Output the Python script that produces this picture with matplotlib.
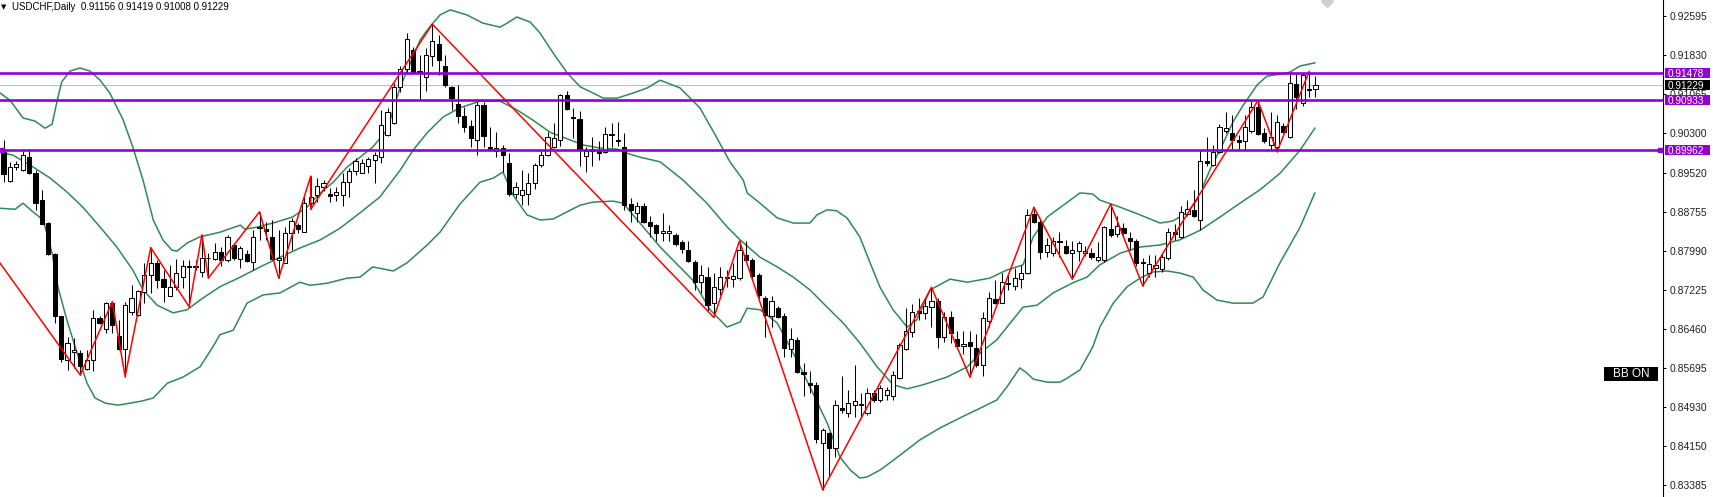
import matplotlib
matplotlib.use('Agg')
import matplotlib.pyplot as plt
import numpy as np
from matplotlib.patches import Rectangle
from matplotlib.transforms import blended_transform_factory

plt.rcParams['font.family'] = ['Liberation Sans', 'DejaVu Sans']

# ===== 일봉 OHLC (오래된 봉부터) =====
SYMBOL = 'USDCHF,Daily'

opens = [
    0.8993, 0.8936, 0.8962, 0.8957, 0.8983, 0.8951, 0.8898, 0.8853, 0.8792, 0.8670,
    0.8585, 0.8600, 0.8598, 0.8566, 0.8585, 0.8666, 0.8645, 0.8696, 0.8632, 0.8606,
    0.8679, 0.8673, 0.8717, 0.8751, 0.8774, 0.8743, 0.8710, 0.8728, 0.8748, 0.8769,
    0.8766, 0.8757, 0.8785, 0.8782, 0.8797, 0.8781, 0.8810, 0.8782, 0.8792, 0.8777,
    0.8843, 0.8841, 0.8825, 0.8781, 0.8775, 0.8833, 0.8849, 0.8836, 0.8892, 0.8908,
    0.8924, 0.8909, 0.8908, 0.8908, 0.8934, 0.8956, 0.8952, 0.8965, 0.8977, 0.8983,
    0.9026, 0.9050, 0.9119, 0.9156, 0.9192, 0.9152, 0.9139, 0.9180, 0.9205, 0.9160,
    0.9119, 0.9087, 0.9063, 0.9043, 0.9016, 0.9085, 0.9003, 0.8994, 0.9000, 0.8971,
    0.8910, 0.8908, 0.8910, 0.8931, 0.8967, 0.8986, 0.9002, 0.9016, 0.9104, 0.9060,
    0.9057, 0.8985, 0.8994, 0.8994, 0.8993, 0.9028, 0.9016, 0.9003, 0.8890, 0.8873,
    0.8886, 0.8856, 0.8849, 0.8834, 0.8833, 0.8830, 0.8815, 0.8800, 0.8777, 0.8738,
    0.8747, 0.8696, 0.8723, 0.8747, 0.8744, 0.8745, 0.8790, 0.8781, 0.8751, 0.8706,
    0.8670, 0.8686, 0.8670, 0.8606, 0.8624, 0.8560, 0.8539, 0.8536, 0.8421, 0.8441,
    0.8411, 0.8490, 0.8480, 0.8496, 0.8496, 0.8480, 0.8519, 0.8506, 0.8516, 0.8513,
    0.8549, 0.8606, 0.8640, 0.8681, 0.8676, 0.8688, 0.8701, 0.8629, 0.8668, 0.8625,
    0.8612, 0.8619, 0.8609, 0.8575, 0.8660, 0.8704, 0.8697, 0.8735, 0.8730, 0.8743,
    0.8755, 0.8871, 0.8856, 0.8797, 0.8794, 0.8818, 0.8808, 0.8795, 0.8799, 0.8794,
    0.8795, 0.8781, 0.8781, 0.8841, 0.8832, 0.8843, 0.8823, 0.8818, 0.8777, 0.8755,
    0.8764, 0.8762, 0.8784, 0.8836, 0.8826, 0.8871, 0.8879, 0.8859, 0.8974, 0.8967,
    0.8993, 0.9034, 0.9030, 0.9015, 0.9013, 0.9034, 0.9080, 0.9029, 0.9006, 0.9003,
    0.9043, 0.9021, 0.9126, 0.9088, 0.9116, 0.91156,
]
highs = [
    0.9016, 0.8973, 0.8975, 0.8995, 0.8998, 0.8957, 0.8918, 0.8856, 0.8794, 0.8670,
    0.8630, 0.8627, 0.8604, 0.8604, 0.8683, 0.8670, 0.8699, 0.8699, 0.8663, 0.8699,
    0.8732, 0.8722, 0.8774, 0.8805, 0.8781, 0.8761, 0.8771, 0.8782, 0.8781, 0.8781,
    0.8781, 0.8830, 0.8794, 0.8814, 0.8807, 0.8830, 0.8813, 0.8808, 0.8800, 0.8839,
    0.8875, 0.8856, 0.8859, 0.8839, 0.8846, 0.8862, 0.8853, 0.8904, 0.8945, 0.8941,
    0.8938, 0.8921, 0.8924, 0.8951, 0.8960, 0.8980, 0.8978, 0.8983, 0.8993, 0.9075,
    0.9078, 0.9127, 0.9160, 0.9226, 0.9199, 0.9183, 0.9196, 0.9243, 0.9222, 0.9183,
    0.9122, 0.9124, 0.9081, 0.9055, 0.9091, 0.9091, 0.9042, 0.9032, 0.9006, 0.8991,
    0.8934, 0.8957, 0.8951, 0.8971, 0.8997, 0.9032, 0.9049, 0.9106, 0.9112, 0.9078,
    0.9073, 0.9003, 0.9022, 0.9013, 0.9041, 0.9049, 0.9052, 0.9029, 0.8902, 0.8895,
    0.8892, 0.8866, 0.8851, 0.8873, 0.8849, 0.8833, 0.8820, 0.8817, 0.8781, 0.8771,
    0.8766, 0.8755, 0.8766, 0.8761, 0.8774, 0.8818, 0.8817, 0.8784, 0.8755, 0.8709,
    0.8710, 0.8690, 0.8676, 0.8647, 0.8630, 0.8578, 0.8562, 0.8542, 0.8451, 0.8444,
    0.8506, 0.8553, 0.8526, 0.8575, 0.8519, 0.8529, 0.8526, 0.8536, 0.8532, 0.8562,
    0.8617, 0.8686, 0.8694, 0.8706, 0.8706, 0.8727, 0.8706, 0.8679, 0.8681, 0.8642,
    0.8642, 0.8642, 0.8636, 0.8679, 0.8717, 0.8741, 0.8756, 0.8753, 0.8764, 0.8771,
    0.8880, 0.8884, 0.8860, 0.8823, 0.8825, 0.8836, 0.8820, 0.8817, 0.8818, 0.8808,
    0.8804, 0.8815, 0.8847, 0.8890, 0.8866, 0.8854, 0.8836, 0.8821, 0.8784, 0.8790,
    0.8790, 0.8794, 0.8843, 0.8852, 0.8886, 0.8898, 0.8918, 0.8996, 0.9021, 0.9006,
    0.9047, 0.9071, 0.9065, 0.9026, 0.9065, 0.9093, 0.9093, 0.9039, 0.9071, 0.9065,
    0.9049, 0.9150, 0.9145, 0.9148, 0.9150, 0.91419,
]
lows = [
    0.8934, 0.8934, 0.8957, 0.8956, 0.8949, 0.8879, 0.8851, 0.8790, 0.8658, 0.8581,
    0.8565, 0.8568, 0.8555, 0.8565, 0.8562, 0.8656, 0.8637, 0.8637, 0.8604, 0.8552,
    0.8673, 0.8670, 0.8697, 0.8715, 0.8725, 0.8699, 0.8709, 0.8722, 0.8725, 0.8689,
    0.8761, 0.8748, 0.8745, 0.8781, 0.8768, 0.8777, 0.8781, 0.8764, 0.8777, 0.8760,
    0.8820, 0.8820, 0.8781, 0.8745, 0.8774, 0.8800, 0.8833, 0.8835, 0.8880, 0.8895,
    0.8915, 0.8895, 0.8897, 0.8886, 0.8905, 0.8947, 0.8951, 0.8951, 0.8931, 0.8970,
    0.9024, 0.9047, 0.9110, 0.9148, 0.9148, 0.9094, 0.9111, 0.9160, 0.9143, 0.9120,
    0.9075, 0.9050, 0.9032, 0.9002, 0.8987, 0.9002, 0.8995, 0.8982, 0.8954, 0.8906,
    0.8902, 0.8888, 0.8888, 0.8919, 0.8963, 0.8985, 0.9000, 0.9004, 0.9075, 0.9019,
    0.8964, 0.8954, 0.8964, 0.8977, 0.8990, 0.9003, 0.9004, 0.8879, 0.8856, 0.8856,
    0.8853, 0.8826, 0.8817, 0.8818, 0.8817, 0.8808, 0.8795, 0.8777, 0.8722, 0.8715,
    0.8681, 0.8668, 0.8712, 0.8727, 0.8728, 0.8741, 0.8777, 0.8741, 0.8706, 0.8630,
    0.8650, 0.8666, 0.8591, 0.8591, 0.8559, 0.8514, 0.8519, 0.8421, 0.8330, 0.8356,
    0.8395, 0.8480, 0.8473, 0.8472, 0.8470, 0.8477, 0.8503, 0.8502, 0.8506, 0.8506,
    0.8547, 0.8604, 0.8630, 0.8663, 0.8664, 0.8650, 0.8608, 0.8619, 0.8617, 0.8611,
    0.8596, 0.8551, 0.8571, 0.8553, 0.8650, 0.8694, 0.8696, 0.8722, 0.8722, 0.8725,
    0.8753, 0.8854, 0.8782, 0.8787, 0.8788, 0.8786, 0.8792, 0.8743, 0.8779, 0.8788,
    0.8783, 0.8777, 0.8777, 0.8826, 0.8826, 0.8830, 0.8800, 0.8768, 0.8730, 0.8748,
    0.8747, 0.8758, 0.8781, 0.8820, 0.8823, 0.8866, 0.8864, 0.8839, 0.8964, 0.8964,
    0.8990, 0.9029, 0.8998, 0.8996, 0.8996, 0.9030, 0.9026, 0.9009, 0.8996, 0.8993,
    0.9029, 0.9019, 0.9076, 0.9083, 0.9101, 0.91008,
]
closes = [
    0.8949, 0.8962, 0.8968, 0.8987, 0.8951, 0.8892, 0.8851, 0.8792, 0.8671, 0.8586,
    0.8617, 0.8604, 0.8573, 0.8585, 0.8666, 0.8658, 0.8696, 0.8653, 0.8606, 0.8692,
    0.8706, 0.8719, 0.8751, 0.8774, 0.8741, 0.8727, 0.8727, 0.8755, 0.8769, 0.8766,
    0.8768, 0.8784, 0.8784, 0.8797, 0.8781, 0.8825, 0.8784, 0.8804, 0.8779, 0.8825,
    0.8845, 0.8837, 0.8782, 0.8784, 0.8833, 0.8857, 0.8841, 0.8893, 0.8905, 0.8926,
    0.8931, 0.8906, 0.8913, 0.8934, 0.8956, 0.8975, 0.8971, 0.8978, 0.8986, 0.9045,
    0.9071, 0.9119, 0.9156, 0.9213, 0.9150, 0.9149, 0.9183, 0.9209, 0.9173, 0.9124,
    0.9098, 0.9063, 0.9042, 0.9019, 0.9085, 0.9024, 0.8996, 0.9000, 0.8987, 0.8910,
    0.8923, 0.8918, 0.8932, 0.8967, 0.8987, 0.9022, 0.9019, 0.9104, 0.9076, 0.9058,
    0.8996, 0.8994, 0.8999, 0.8991, 0.9028, 0.9025, 0.9014, 0.8888, 0.8879, 0.8886,
    0.8856, 0.8847, 0.8834, 0.8838, 0.8838, 0.8812, 0.8802, 0.8779, 0.8738, 0.8751,
    0.8692, 0.8727, 0.8748, 0.8745, 0.8749, 0.8800, 0.8781, 0.8749, 0.8712, 0.8673,
    0.8701, 0.8668, 0.8608, 0.8625, 0.8560, 0.8557, 0.8536, 0.8429, 0.8447, 0.8411,
    0.8496, 0.8487, 0.8501, 0.8505, 0.8498, 0.8519, 0.8506, 0.8530, 0.8526, 0.8555,
    0.8614, 0.8642, 0.8679, 0.8677, 0.8690, 0.8701, 0.8629, 0.8668, 0.8638, 0.8612,
    0.8616, 0.8612, 0.8575, 0.8666, 0.8706, 0.8697, 0.8738, 0.8733, 0.8745, 0.8756,
    0.8869, 0.8856, 0.8797, 0.8810, 0.8818, 0.8816, 0.8795, 0.8800, 0.8813, 0.8799,
    0.8786, 0.8786, 0.8845, 0.8830, 0.8847, 0.8833, 0.8818, 0.8774, 0.8774, 0.8773,
    0.8771, 0.8787, 0.8836, 0.8832, 0.8875, 0.8880, 0.8867, 0.8974, 0.8971, 0.8993,
    0.9041, 0.9039, 0.9015, 0.9011, 0.9042, 0.9080, 0.9028, 0.9013, 0.9021, 0.9052,
    0.9032, 0.9128, 0.9101, 0.9143, 0.9114, 0.91229,
]

# ===== ZigZag 꼭짓점 (봉 번호, 가격) - 첫 점은 화면 왼쪽 밖 =====
zz_idx = [-14, 12, 17, 19, 23, 29, 31, 32, 40, 43, 48, 48, 67, 111, 115, 128,
          145, 151, 161, 167, 173, 178, 196, 199, 204]
zz_val = [0.9010, 0.8555, 0.8699, 0.8552, 0.8805, 0.8689, 0.8830, 0.8745, 0.8875,
          0.8745, 0.8945, 0.8880, 0.9243, 0.8668, 0.8818, 0.8330, 0.8727, 0.8551,
          0.8884, 0.8743, 0.8890, 0.8730, 0.9093, 0.8993, 0.9150]

# ===== 볼린저 밴드 =====
bb_up_x = [-0.55, 1.0, 3.05, 4.9, 6.5, 7.6, 8.4, 9.1, 10.4, 11.95, 13.5, 15.1, 16.6,
           18.7, 20.2, 21.8, 23.4, 24.9, 26.3, 27.1, 28.7, 30.7, 33.8, 37.0, 37.7,
           39.6, 42.1, 45.2, 47.4, 49.5, 51.5, 53.7, 55.7, 57.7, 59.9, 60.9, 62.0,
           63.1, 64.0, 65.1, 66.2, 67.1, 68.2, 69.8, 72.4, 74.9, 77.6, 78.7, 80.2,
           82.3, 83.8, 85.9, 88.1, 90.1, 92.1, 93.7, 95.9, 98.4, 100.6, 102.6, 105.7,
           108.8, 111.2, 113.5, 115.6, 116.2, 118.2, 120.9, 123.4, 126.0, 127.1, 128.7,
           130.2, 131.8, 133.8, 135.4, 137.0, 139.0, 141.2, 142.7, 144.8, 147.9, 150.6,
           154.1, 156.8, 159.3, 160.9, 163.1, 165.6, 168.2, 170.2, 171.3, 174.5, 177.6,
           180.7, 182.7, 184.9, 186.5, 188.5, 190.6, 192.1, 193.7, 195.9, 197.4, 199.5,
           201.0, 202.6, 204.9]
bb_up = [0.9108, 0.9094, 0.9059, 0.9053, 0.9039, 0.9047, 0.9094, 0.9130, 0.9151, 0.9157,
         0.9151, 0.9133, 0.9108, 0.9055, 0.9002, 0.8937, 0.8859, 0.8820, 0.8800, 0.8798,
         0.8814, 0.8826, 0.8835, 0.8849, 0.8841, 0.8845, 0.8853, 0.8865, 0.8884, 0.8912,
         0.8933, 0.8963, 0.8982, 0.9002, 0.9035, 0.9075, 0.9120, 0.9153, 0.9179, 0.9212,
         0.9231, 0.9245, 0.9261, 0.9271, 0.9261, 0.9245, 0.9237, 0.9245, 0.9257, 0.9247,
         0.9226, 0.9186, 0.9147, 0.9120, 0.9108, 0.9098, 0.9098, 0.9108, 0.9118, 0.9133,
         0.9118, 0.9079, 0.9026, 0.8973, 0.8937, 0.8912, 0.8892, 0.8863, 0.8853, 0.8853,
         0.8869, 0.8879, 0.8877, 0.8863, 0.8826, 0.8775, 0.8726, 0.8683, 0.8649, 0.8663,
         0.8722, 0.8743, 0.8737, 0.8745, 0.8761, 0.8771, 0.8826, 0.8865, 0.8888, 0.8912,
         0.8910, 0.8898, 0.8884, 0.8869, 0.8853, 0.8857, 0.8873, 0.8898, 0.8957, 0.9010,
         0.9051, 0.9084, 0.9124, 0.9141, 0.9145, 0.9149, 0.9161, 0.9167]

bb_mid_x = [-0.55, 1.5, 4.6, 7.3, 9.9, 12.4, 15.1, 17.7, 20.2, 21.8, 24.0, 26.5, 28.7,
            30.7, 33.8, 37.0, 40.1, 43.2, 46.3, 49.5, 52.6, 55.7, 58.8, 62.0, 64.0,
            66.2, 68.7, 71.3, 74.5, 77.6, 80.2, 82.7, 85.4, 88.1, 90.6, 93.2, 95.9,
            97.4, 99.5, 102.6, 106.2, 109.9, 113.1, 115.1, 118.2, 120.9, 123.4, 126.0,
            128.7, 131.2, 133.8, 136.5, 139.0, 141.2, 143.7, 147.4, 150.6, 152.6, 155.2,
            157.7, 159.3, 161.5, 164.0, 167.1, 169.3, 171.3, 174.5, 177.6, 180.7, 183.8,
            187.0, 190.1, 193.2, 196.3, 199.5, 202.6, 204.9]
bb_mid = [0.8992, 0.8986, 0.8963, 0.8941, 0.8914, 0.8884, 0.8845, 0.8806, 0.8761, 0.8722,
          0.8692, 0.8677, 0.8683, 0.8702, 0.8728, 0.8747, 0.8767, 0.8786, 0.8804, 0.8820,
          0.8843, 0.8873, 0.8904, 0.8957, 0.8996, 0.9030, 0.9061, 0.9079, 0.9092, 0.9092,
          0.9075, 0.9055, 0.9031, 0.9018, 0.9006, 0.9000, 0.8998, 0.8990, 0.8982, 0.8973,
          0.8937, 0.8892, 0.8845, 0.8820, 0.8786, 0.8767, 0.8747, 0.8722, 0.8688, 0.8657,
          0.8618, 0.8571, 0.8536, 0.8528, 0.8536, 0.8551, 0.8571, 0.8598, 0.8624, 0.8663,
          0.8688, 0.8692, 0.8716, 0.8736, 0.8747, 0.8771, 0.8794, 0.8806, 0.8810, 0.8820,
          0.8839, 0.8865, 0.8892, 0.8918, 0.8951, 0.8996, 0.9039]

bb_low_x = [-0.55, 1.8, 3.05, 4.6, 6.2, 7.6, 8.5, 9.9, 11.5, 13.05, 14.3, 15.9, 17.9,
            19.8, 21.6, 23.4, 25.6, 28.05, 30.7, 32.7, 33.8, 35.9, 38.05, 40.55, 43.2,
            46.3, 47.9, 50.55, 53.7, 55.7, 57.7, 60.9, 63.05, 66.2, 68.2, 71.3, 74.45,
            76.5, 78.05, 79.6, 81.8, 83.8, 85.9, 88.05, 90.1, 92.1, 95.2, 96.8, 99.45,
            102.6, 107.7, 110.4, 113.05, 115.1, 116.2, 118.2, 120.9, 123.4, 126.0, 128.7,
            130.7, 132.3, 133.8, 134.9, 137.0, 140.1, 143.2, 146.3, 149.45, 152.6, 155.2,
            156.8, 158.8, 159.9, 160.9, 163.05, 165.1, 166.2, 168.2, 170.2, 171.3, 173.4,
            175.55, 177.6, 179.6, 181.8, 183.8, 185.9, 187.4, 189.6, 192.1, 195.2, 196.8,
            199.45, 202.6, 204.9]
bb_low = [0.8882, 0.8880, 0.8892, 0.8875, 0.8859, 0.8794, 0.8728, 0.8663, 0.8598, 0.8539,
          0.8510, 0.8500, 0.8496, 0.8500, 0.8504, 0.8510, 0.8539, 0.8551, 0.8571, 0.8610,
          0.8634, 0.8643, 0.8696, 0.8712, 0.8716, 0.8737, 0.8731, 0.8735, 0.8745, 0.8747,
          0.8767, 0.8759, 0.8775, 0.8810, 0.8835, 0.8890, 0.8933, 0.8941, 0.8953, 0.8908,
          0.8869, 0.8859, 0.8861, 0.8875, 0.8888, 0.8894, 0.8896, 0.8892, 0.8853, 0.8806,
          0.8741, 0.8683, 0.8649, 0.8659, 0.8686, 0.8683, 0.8657, 0.8598, 0.8532, 0.8461,
          0.8394, 0.8369, 0.8353, 0.8355, 0.8369, 0.8398, 0.8428, 0.8451, 0.8471, 0.8490,
          0.8506, 0.8532, 0.8569, 0.8559, 0.8547, 0.8541, 0.8541, 0.8549, 0.8565, 0.8610,
          0.8649, 0.8696, 0.8728, 0.8745, 0.8757, 0.8759, 0.8755, 0.8747, 0.8722, 0.8702,
          0.8696, 0.8696, 0.8708, 0.8775, 0.8845, 0.8912]

# ===== 수평선 / 축 눈금 =====
LEVELS = [0.91478, 0.90933, 0.89962]
ANCHORED_LEVEL = 0.89962         # 양 끝에 앵커 점이 보이는 선
TICKS = [0.92595, 0.91830, 0.91065, 0.90300, 0.89520, 0.88755, 0.87990,
         0.87225, 0.86460, 0.85695, 0.84930, 0.84150, 0.83385]

W, H = 1713, 497
AX_W = 1663                      # 가격축 세로선 위치 (px)
YMIN, YMAX = 0.83159, 0.92903
XMIN, XMAX = -0.55, 259.3

PURPLE = '#9400d3'
BB_GREEN = '#2e8b57'

fig = plt.figure(figsize=(W / 100, H / 100), dpi=100)
ax = fig.add_axes([0, 0, AX_W / W, 1])
ax.set_xlim(XMIN, XMAX)
ax.set_ylim(YMIN, YMAX)

o = np.array(opens)
h = np.array(highs)
l = np.array(lows)
c = np.array(closes)
x = np.arange(len(c))
up = c >= o

# bands
ax.plot(bb_up_x, bb_up, color=BB_GREEN, lw=1.1, zorder=2)
ax.plot(bb_mid_x, bb_mid, color=BB_GREEN, lw=1.1, zorder=2)
ax.plot(bb_low_x, bb_low, color=BB_GREEN, lw=1.1, zorder=2)

# candles
ax.vlines(x, l, h, color='black', lw=0.75, zorder=3)
ax.bar(x, np.abs(c - o), bottom=np.minimum(o, c), width=0.68,
       color=np.where(up, 'white', 'black'), edgecolor='black', linewidth=0.75, zorder=4)

# zigzag
ax.plot(zz_idx, zz_val, color='#ff0000', lw=1.1, zorder=5)

# horizontal lines
ax.axhline(c[-1], color='#c0c0c0', lw=0.8, zorder=1)
for lvl in LEVELS:
    ax.axhline(lvl, color=PURPLE, lw=1.9, zorder=6)

tr = blended_transform_factory(ax.transAxes, ax.transData)
ax.plot([1.5 / AX_W, 1660 / AX_W], [ANCHORED_LEVEL, ANCHORED_LEVEL], transform=tr,
        ls='none', marker='s', ms=3.2, mfc=PURPLE, mec=PURPLE, zorder=7, clip_on=False)

# price axis
for s in ['left', 'top', 'bottom']:
    ax.spines[s].set_visible(False)
ax.spines['right'].set_linewidth(0.8)
ax.set_xticks([])
ax.yaxis.tick_right()
ax.set_yticks(TICKS)
ax.set_yticklabels([f'{t:.5f}' for t in TICKS], fontsize=7.5, color='#202020')
ax.tick_params(axis='y', length=2.5, width=0.7, pad=2)

# price tags on the axis
tag_h = 10 * (YMAX - YMIN) / H


def price_tag(level, color):
    ax.add_patch(Rectangle((1665 / AX_W, level - tag_h / 2), 45 / AX_W, tag_h,
                           transform=tr, facecolor=color, edgecolor='none',
                           clip_on=False, zorder=10))
    ax.text(1667.5 / AX_W, level, f'{level:.5f}', transform=tr, color='white',
            fontsize=7.2, ha='left', va='center_baseline', clip_on=False, zorder=11)


for lvl in LEVELS:
    price_tag(lvl, PURPLE)
price_tag(c[-1], 'black')

# title
fig.text(1 / W, 1 - 7 / H, '\u25bc', fontsize=5, family='DejaVu Sans', va='center')
fig.text(11.5 / W, 1 - 7 / H,
         f'{SYMBOL}  {o[-1]:.5f} {h[-1]:.5f} {l[-1]:.5f} {c[-1]:.5f}',
         fontsize=7, va='center', color='black')

# small grey marker cut by the top edge
fig.add_artist(plt.Line2D([1327 / W], [1 - 1 / H], transform=fig.transFigure,
                          marker='D', ms=6, mfc='#d0d0d0', mec='#d0d0d0', ls='none'))

# BB ON button
fig.patches.append(Rectangle((1604 / W, 1 - 381 / H), 54 / W, 14 / H,
                             transform=fig.transFigure, facecolor='black',
                             edgecolor='none'))
fig.text(1631 / W, 1 - 374 / H, 'BB ON', fontsize=8.5, color='white',
         ha='center', va='center')

fig.savefig('out.png', dpi=100, facecolor='white')
